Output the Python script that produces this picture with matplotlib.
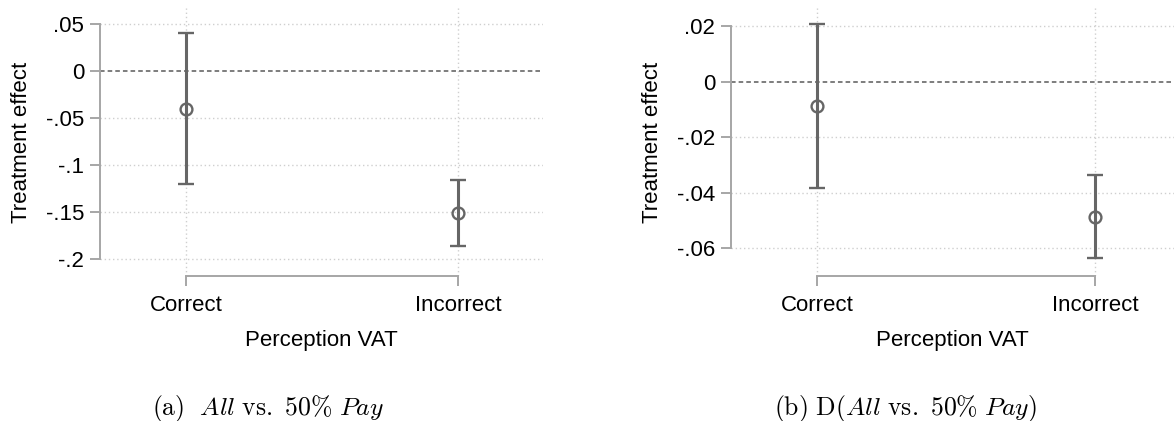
import numpy as np
import matplotlib.pyplot as plt

plt.rcParams['font.family'] = ['Liberation Sans', 'DejaVu Sans']
plt.rcParams['mathtext.fontset'] = 'cm'

categories = ['Correct', 'Incorrect']

# panel (a): All vs. 50% Pay
est_a = [-0.040, -0.151]
lo_a = [-0.120, -0.186]
hi_a = [0.040, -0.116]
ticks_a = [0.05, 0, -0.05, -0.1, -0.15, -0.2]
ticklabels_a = ['.05', '0', '-.05', '-.1', '-.15', '-.2']

# panel (b): D(All vs. 50% Pay)
est_b = [-0.0087, -0.0488]
lo_b = [-0.0381, -0.0636]
hi_b = [0.0208, -0.0337]
ticks_b = [0.02, 0, -0.02, -0.04, -0.06]
ticklabels_b = ['.02', '0', '-.02', '-.04', '-.06']

captions = [r'$\mathrm{(a)}\ \ \mathit{All}\ \mathrm{vs.}\ \mathit{50\%\ Pay}$',
            r'$\mathrm{(b)\ D(}\mathit{All}\ \mathrm{vs.}\ \mathit{50\%\ Pay}\mathrm{)}$']

W, H = 1174, 421
fig = plt.figure(figsize=(W / 100, H / 100), dpi=100)

axis_col = '#a6a6a6'
mark_col = '#666666'
grid_col = '#cfcfcf'


def panel(rect, est, lo, hi, ticks, ticklabels, xlim, ylim, caption, cap_x):
    ax = fig.add_axes(rect)
    x = np.arange(len(categories))
    est = np.array(est)
    err = np.vstack([est - np.array(lo), np.array(hi) - est])
    ax.set_xlim(*xlim)
    ax.set_ylim(*ylim)
    for t in ticks:
        if t == 0:
            continue
        ax.axhline(t, color=grid_col, lw=1, ls=(0, (1, 2)), zorder=0)
    for xi in x:
        ax.axvline(xi, color=grid_col, lw=1, ls=(0, (1, 2)), zorder=0)
    ax.axhline(0, color='#5a5a5a', lw=1.1, ls=(0, (3, 2)), zorder=1)
    ax.errorbar(x, est, yerr=err, fmt='o', color=mark_col, ecolor=mark_col,
                elinewidth=2.2, capsize=6, capthick=2.2, ms=8.5,
                mfc='none', mec=mark_col, mew=1.7, zorder=3)
    for s in ['top', 'right']:
        ax.spines[s].set_visible(False)
    ax.spines['left'].set_bounds(min(ticks), max(ticks))
    ax.spines['bottom'].set_bounds(0, len(categories) - 1)
    for s in ['left', 'bottom']:
        ax.spines[s].set_color(axis_col)
        ax.spines[s].set_linewidth(1.4)
    ax.set_yticks(ticks)
    ax.set_yticklabels(ticklabels)
    ax.set_xticks(x)
    ax.set_xticklabels(categories)
    ax.tick_params(axis='both', color=axis_col, width=1.4, length=7.5,
                   labelsize=16, pad=4)
    ax.tick_params(axis='x', pad=6)
    ax.set_ylabel('Treatment effect', fontsize=16, labelpad=10)
    ax.set_xlabel('Perception VAT', fontsize=16, labelpad=10)
    ax.set_facecolor('none')
    fig.text(cap_x, 1 - 408 / H, caption, fontsize=18.5, ha='center', va='center')
    return ax


bottom = 1 - 276 / H
height = (276 - 8) / H
panel([100 / W, bottom, 443 / W, height], est_a, lo_a, hi_a, ticks_a, ticklabels_a,
      (-0.316, 1.3125), (-0.218, 0.067), captions[0], 268 / W)
panel([731 / W, bottom, 443 / W, height], est_b, lo_b, hi_b, ticks_b, ticklabels_b,
      (-0.309, 1.284), (-0.0699, 0.0265), captions[1], 906 / W)

fig.savefig('out.png', dpi=100)
